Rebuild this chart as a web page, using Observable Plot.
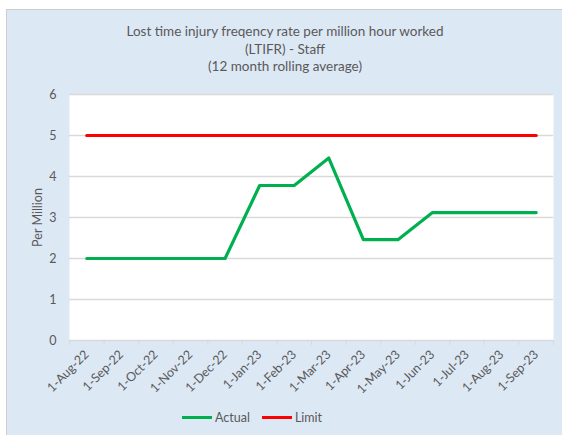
<!DOCTYPE html>
<html><head><meta charset="utf-8">
<script src="https://cdn.jsdelivr.net/npm/d3@7"></script>
<script src="https://cdn.jsdelivr.net/npm/@observablehq/plot@0.6"></script>
<style>
body{margin:0;background:#fff;font-family:Lato,"Open Sans",sans-serif;color:#595959;}
#panel{position:absolute;left:6px;top:9px;width:556px;height:426px;background:#dde8f5;border-left:1px solid #cdcdcd;border-top:1px solid #cdcdcd;}
#title{position:absolute;left:0;top:13px;width:556px;text-align:center;font-size:13.5px;line-height:17.5px;color:#595959;}
#chart{position:absolute;left:0;top:70px;}
#legend{position:absolute;left:175px;top:400px;display:flex;align-items:center;font-size:12.5px;color:#595959;}
.sw{display:inline-block;width:30px;height:3px;margin-right:3px;}
</style></head>
<body>
<div id="panel">
  <div id="title">Lost time injury freqency rate per million hour worked<br>(LTIFR) - Staff<br>(12 month rolling average)</div>
  <div id="chart"></div>
  <div id="legend"></div>
</div>
<script>
const months = ["1-Aug-22","1-Sep-22","1-Oct-22","1-Nov-22","1-Dec-22","1-Jan-23","1-Feb-23","1-Mar-23","1-Apr-23","1-May-23","1-Jun-23","1-Jul-23","1-Aug-23","1-Sep-23"];
const actual = [2,2,2,2,2,3.78,3.78,4.45,2.46,2.46,3.12,3.12,3.12,3.12];
const limit = [5,5,5,5,5,5,5,5,5,5,5,5,5,5];
const yTicks = [0,1,2,3,4,5,6];
const seriesNames = ["Actual","Limit"];
const seriesColors = ["#00b050","#ff0000"];

const idx = months.map((m,i)=>i);
const bounds = months.map((m,i)=>i-0.5).concat([months.length-0.5]);
const actualData = months.map((m,i)=>({i, v: actual[i]}));
const limitData = months.map((m,i)=>({i, v: limit[i]}));

const plot = Plot.plot({
  width: 556, height: 325,
  marginLeft: 62, marginRight: 10, marginTop: 14, marginBottom: 65,
  style: {fontFamily: "Lato, 'Open Sans', sans-serif", fontSize: "12px", color: "#595959", background: "transparent"},
  x: {type: "linear", domain: [-0.5, months.length-0.5]},
  y: {domain: [0,6]},
  marks: [
    Plot.frame({fill: "white", stroke: null}),
    Plot.gridY(yTicks.filter(t=>t>0), {stroke: "#d9d9d9", strokeOpacity: 1, strokeWidth: 1.3}),
    Plot.ruleY([0], {stroke: "#d9d9d9", strokeWidth: 1.3}),
    Plot.axisX(bounds, {tickSize: 5, tickFormat: () => "", stroke: "#d9d9d9", label: null}),
    Plot.axisX(idx, {tickSize: 0, tickPadding: 12, tickRotate: -45, tickFormat: i => months[i], fill: "#595959", fontSize: 12.5, label: null}),
    Plot.axisY(yTicks, {tickSize: 0, tickPadding: 13, fill: "#595959", fontSize: 12.5, label: "Per Million", labelAnchor: "center", labelArrow: "none", labelOffset: 36}),
    Plot.line(limitData, {x: "i", y: "v", stroke: seriesColors[1], strokeWidth: 3.2}),
    Plot.line(actualData, {x: "i", y: "v", stroke: seriesColors[0], strokeWidth: 3.2, strokeLinejoin: "round"})
  ]
});
document.getElementById("chart").appendChild(plot);

const lg = document.getElementById("legend");
seriesNames.forEach((n,k)=>{
  const item = document.createElement("span");
  item.style.display = "flex"; item.style.alignItems = "center"; item.style.marginRight = "12px";
  item.innerHTML = `<span class="sw" style="background:${seriesColors[k]}"></span>${n}`;
  lg.appendChild(item);
});
</script>
</body></html>
